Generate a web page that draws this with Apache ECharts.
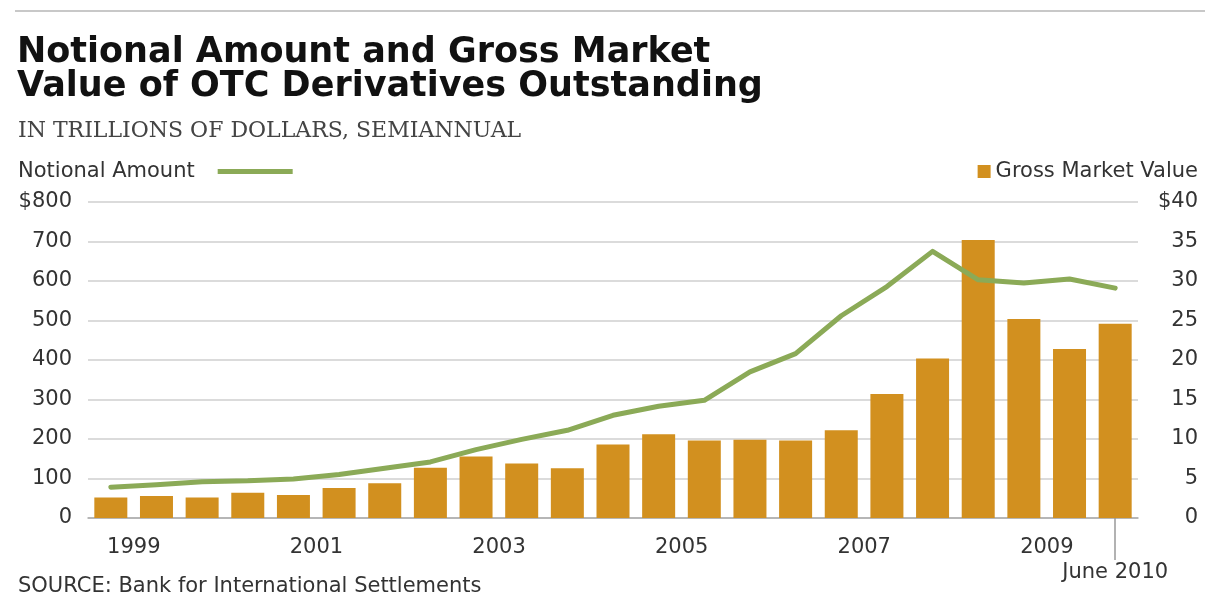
<!DOCTYPE html>
<html>
<head>
<meta charset="utf-8">
<title>Notional Amount and Gross Market Value of OTC Derivatives Outstanding</title>
<script src="https://cdn.jsdelivr.net/npm/echarts@6/dist/echarts.min.js"></script>
<style>
  html, body { margin: 0; padding: 0; background: #fff; }
  #chart { width: 1205px; height: 609px; }
</style>
</head>
<body>
<div id="chart"></div>
<script>
// semiannual reporting dates, June 1999 - June 2010
const periods = [
  'Jun 1999', 'Dec 1999', 'Jun 2000', 'Dec 2000', 'Jun 2001', 'Dec 2001',
  'Jun 2002', 'Dec 2002', 'Jun 2003', 'Dec 2003', 'Jun 2004', 'Dec 2004',
  'Jun 2005', 'Dec 2005', 'Jun 2006', 'Dec 2006', 'Jun 2007', 'Dec 2007',
  'Jun 2008', 'Dec 2008', 'Jun 2009', 'Dec 2009', 'Jun 2010'
];

// trillions of dollars, left axis
const notionalAmount = [
  78, 84, 92, 94, 99, 110, 126, 142, 173, 199, 222, 260,
  283, 298, 370, 416, 512, 586, 675, 603, 595, 605, 582
];

// trillions of dollars, right axis
const grossMarketValue = [
  2.6, 2.8, 2.6, 3.2, 2.9, 3.8, 4.4, 6.35, 7.8, 6.9, 6.3, 9.3,
  10.6, 9.8, 9.9, 9.8, 11.1, 15.7, 20.2, 35.2, 25.2, 21.4, 24.6
];

// year labels sit between the June and December bars of that year
const yearLabels = ['1999', '2001', '2003', '2005', '2007', '2009'];
const lastLabel = 'June 2010';

const GREEN = '#8BAA57';
const GOLD = '#D2901F';
const TEXT = '#333';
const GRID_GREY = '#cfcfcf';
const SANS = '"DejaVu Sans", sans-serif';
const LABEL_SIZE = 21;

const chart = echarts.init(document.getElementById('chart'));

chart.setOption({
  animation: false,
  backgroundColor: '#fff',
  title: [
    {
      text: 'Notional Amount and Gross Market\nValue of OTC Derivatives Outstanding',
      left: 12,
      top: 31,
      textStyle: {
        fontFamily: SANS,
        fontWeight: 'bold',
        fontSize: 35,
        lineHeight: 34,
        color: '#111',
      },
    },
    {
      text: 'IN TRILLIONS OF DOLLARS, SEMIANNUAL',
      left: 13,
      top: 115,
      textStyle: {
        fontFamily: '"DejaVu Serif", serif',
        fontWeight: 'normal',
        fontSize: 22,
        color: '#444',
      },
    },
    {
      text: 'SOURCE: Bank for International Settlements',
      left: 13,
      top: 571,
      textStyle: {
        fontFamily: SANS,
        fontWeight: 'normal',
        fontSize: 21,
        color: TEXT,
      },
    },
  ],
  graphic: [
    {
      type: 'line',
      shape: { x1: 15, y1: 11, x2: 1205, y2: 11 },
      style: { stroke: '#c8c8c8', lineWidth: 2 },
    },
  ],
  legend: [
    {
      data: ['Notional Amount'],
      left: 13,
      top: 156,
      align: 'right',
      icon: 'rect',
      itemWidth: 75,
      itemHeight: 5,
      textStyle: { fontFamily: SANS, fontSize: 21, color: TEXT, padding: [0, 18, 0, 0] },
    },
    {
      data: ['Gross Market Value'],
      right: 2,
      top: 156,
      icon: 'rect',
      itemWidth: 13,
      itemHeight: 13,
      textStyle: { fontFamily: SANS, fontSize: 21, color: TEXT },
    },
  ],
  grid: {
    left: 88,
    right: 67,
    top: 202,
    bottom: 91,
  },
  xAxis: [
    {
      type: 'category',
      data: periods,
      axisLine: { lineStyle: { color: '#aaa', width: 1.5 } },
      axisTick: {
        alignWithLabel: true,
        interval: 0,
        length: 5,
        lineStyle: { color: '#bbb' },
      },
      axisLabel: {
        interval: 0,
        margin: 17,
        lineHeight: 25,
        fontFamily: SANS,
        fontSize: LABEL_SIZE,
        color: TEXT,
        formatter: function (value, index) {
          if (index === periods.length - 1) {
            return '\n' + lastLabel;
          }
          const year = value.slice(4);
          if (value.startsWith('Jun') && yearLabels.includes(year)) {
            return '{y|' + year + '}';
          }
          return '';
        },
        rich: {
          y: {
            fontFamily: SANS,
            fontSize: LABEL_SIZE,
            lineHeight: 25,
            color: TEXT,
            padding: [0, 0, 0, 46],
          },
        },
      },
    },
    {
      // only used for the long tick under June 2010
      type: 'category',
      data: periods,
      gridIndex: 0,
      position: 'bottom',
      offset: 0,
      axisLine: { show: true, lineStyle: { color: 'rgba(0,0,0,0)' } },
      axisTick: {
        show: true,
        alignWithLabel: true,
        interval: function (index) {
          return index === periods.length - 1;
        },
        length: 42,
        lineStyle: { color: '#999', width: 1.5 },
      },
      axisLabel: {
        show: true,
        interval: 0,
        formatter: function () {
          return '';
        },
      },
      splitLine: { show: false },
    },
  ],
  yAxis: [
    {
      type: 'value',
      min: 0,
      max: 800,
      interval: 100,
      axisLine: { show: false },
      axisTick: { show: false },
      splitLine: { lineStyle: { color: GRID_GREY, width: 1.5 } },
      axisLabel: {
        margin: 16,
        fontFamily: SANS,
        fontSize: LABEL_SIZE,
        color: TEXT,
        formatter: function (value) {
          return value === 800 ? '$800' : value;
        },
      },
    },
    {
      type: 'value',
      min: 0,
      max: 40,
      interval: 5,
      position: 'right',
      axisLine: { show: false },
      axisTick: { show: false },
      splitLine: { show: false },
      axisLabel: {
        margin: 60,
        align: 'right',
        fontFamily: SANS,
        fontSize: LABEL_SIZE,
        color: TEXT,
        formatter: function (value) {
          return value === 40 ? '$40' : value;
        },
      },
    },
  ],
  series: [
    {
      name: 'Gross Market Value',
      type: 'bar',
      yAxisIndex: 1,
      barWidth: 33,
      itemStyle: { color: GOLD },
      data: grossMarketValue,
      z: 2,
    },
    {
      name: 'Notional Amount',
      type: 'line',
      yAxisIndex: 0,
      symbol: 'none',
      lineStyle: { color: GREEN, width: 5, cap: 'round', join: 'round' },
      itemStyle: { color: GREEN },
      data: notionalAmount,
      z: 3,
    },
  ],
});
</script>
</body>
</html>
